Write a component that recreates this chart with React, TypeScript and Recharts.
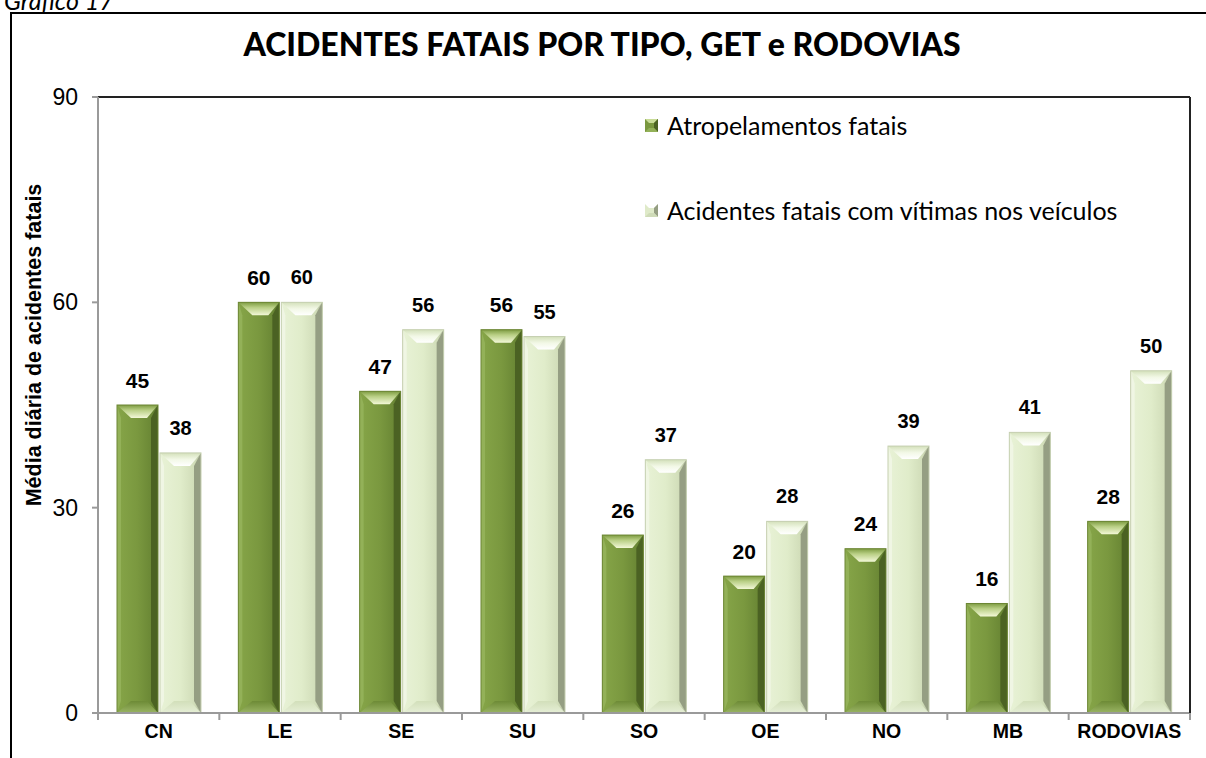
import React from "react";
import { BarChart, Bar, XAxis, YAxis, ReferenceLine, LabelList } from "recharts";

// categorias (GET + rodovias)
const categories = ["CN", "LE", "SE", "SU", "SO", "OE", "NO", "MB", "RODOVIAS"];
const atropelamentos = [45, 60, 47, 56, 26, 20, 24, 16, 28];
const vitimasVeiculos = [38, 60, 56, 55, 37, 28, 39, 41, 50];
const yTicks = [0, 30, 60, 90];
const seriesNames = ["Atropelamentos fatais", "Acidentes fatais com vítimas nos veículos"];

const data = categories.map((c, i) => ({
  cat: c,
  atrop: atropelamentos[i],
  vitimas: vitimasVeiculos[i],
}));

const BAND = 1092 / categories.length;

const Gradients = () => (
  <svg width={0} height={0} style={{ position: "absolute" }}>
    <defs>
      <linearGradient id="darkBody" x1="0" y1="0" x2="1" y2="0">
        <stop offset="0" stopColor="#86a548" />
        <stop offset="0.5" stopColor="#7a983f" />
        <stop offset="0.85" stopColor="#6a8735" />
        <stop offset="1" stopColor="#55702a" />
      </linearGradient>
      <linearGradient id="darkTop" x1="0" y1="0" x2="0" y2="1">
        <stop offset="0" stopColor="#7e9c42" />
        <stop offset="0.4" stopColor="#b9cf85" />
        <stop offset="1" stopColor="#f3f8d8" />
      </linearGradient>
      <linearGradient id="darkBottom" x1="0" y1="0" x2="0" y2="1">
        <stop offset="0" stopColor="#6d8a36" />
        <stop offset="1" stopColor="#9ab564" />
      </linearGradient>
      <linearGradient id="lightBody" x1="0" y1="0" x2="1" y2="0">
        <stop offset="0" stopColor="#e8f2d6" />
        <stop offset="0.5" stopColor="#e0ecca" />
        <stop offset="0.85" stopColor="#d0dcb8" />
        <stop offset="1" stopColor="#aeb89a" />
      </linearGradient>
      <linearGradient id="lightTop" x1="0" y1="0" x2="0" y2="1">
        <stop offset="0" stopColor="#d4e1bb" />
        <stop offset="0.5" stopColor="#f2f8e6" />
        <stop offset="1" stopColor="#ffffff" />
      </linearGradient>
      <linearGradient id="lightBottom" x1="0" y1="0" x2="0" y2="1">
        <stop offset="0" stopColor="#d2dfba" />
        <stop offset="1" stopColor="#e6efd6" />
      </linearGradient>
    </defs>
  </svg>
);

// barra com efeito de chanfro, parecida com o Excel
const BevelBar = (props: any) => {
  const { x, y, width: w, height: h, kind } = props;
  if (!h || h <= 0) return null;
  const dark = kind === "dark";
  const bt = 13;
  const bb = 12;
  const bl = 4;
  const br = 7;
  const p = (pts: number[][]) => pts.map((q) => q.join(",")).join(" ");
  return (
    <g>
      <rect x={x} y={y} width={w} height={h} fill={dark ? "url(#darkBody)" : "url(#lightBody)"} />
      <polygon
        points={p([[x, y], [x + bl, y + bt], [x + bl, y + h - bb], [x, y + h]])}
        fill={dark ? "#93b158" : "#f0f6e4"}
      />
      <polygon
        points={p([[x + w, y], [x + w - br, y + bt], [x + w - br, y + h - bb], [x + w, y + h]])}
        fill={dark ? "#4b6223" : "#959e83"}
      />
      <polygon
        points={p([[x, y], [x + w, y], [x + w - br - 4, y + bt], [x + bl + 10, y + bt]])}
        fill={dark ? "url(#darkTop)" : "url(#lightTop)"}
      />
      <polygon
        points={p([[x, y + h], [x + w, y + h], [x + w - br - 4, y + h - bb], [x + bl + 10, y + h - bb]])}
        fill={dark ? "url(#darkBottom)" : "url(#lightBottom)"}
      />
      <rect x={x} y={y} width={w} height={h} fill="none" stroke={dark ? "#6c8634" : "#c5cfb0"} strokeWidth={1} />
    </g>
  );
};

const valueLabel = (size: number) => (p: any) => (
  <text
    x={p.x + p.width / 2}
    y={p.y - 25}
    textAnchor="middle"
    dominantBaseline="central"
    fontFamily="Arial, 'Liberation Sans', sans-serif"
    fontWeight="bold"
    fontSize={size}
    fill="#000"
  >
    {p.value}
  </text>
);

const XTick = (props: any) => {
  const { x, y, payload, index } = props;
  const last = index === categories.length - 1;
  return (
    <g>
      <line x1={x - BAND / 2} y1={y - 8} x2={x - BAND / 2} y2={y - 1} stroke="#9a9a9a" strokeWidth={2} />
      {last && <line x1={x + BAND / 2} y1={y - 8} x2={x + BAND / 2} y2={y - 1} stroke="#9a9a9a" strokeWidth={2} />}
      <text
        x={x}
        y={y + 10}
        textAnchor="middle"
        dominantBaseline="central"
        fontFamily="Arial, 'Liberation Sans', sans-serif"
        fontWeight="bold"
        fontSize={19.5}
        fill="#000"
      >
        {payload.value}
      </text>
    </g>
  );
};

const LegendSwatch = ({ dark }: { dark: boolean }) => (
  <svg width={13} height={13} style={{ display: "block" }}>
    <rect x={0} y={0} width={13} height={13} fill={dark ? "#7a983f" : "#dfeac9"} />
    <polygon points="0,0 13,0 9,4 4,4" fill={dark ? "#c9dc98" : "#ffffff"} />
    <polygon points="13,0 13,13 9,9 9,4" fill={dark ? "#4b6223" : "#959e83"} />
    <polygon points="0,13 13,13 9,9 4,9" fill={dark ? "#93b158" : "#cfdbb8"} />
  </svg>
);

export default function App() {
  return (
    <div
      style={{
        position: "fixed",
        left: 0,
        top: 0,
        width: 1206,
        height: 758,
        overflow: "hidden",
        background: "#fff",
      }}
    >
      <Gradients />
      <div
        style={{
          position: "absolute",
          left: 4,
          top: -15,
          fontFamily: "Lato, 'Open Sans', sans-serif",
          fontStyle: "italic",
          fontSize: 25,
          color: "#000",
        }}
      >
        Gráfico 17
      </div>
      <div
        style={{
          position: "absolute",
          left: 10,
          top: 12,
          width: 1220,
          height: 780,
          borderLeft: "2px solid #000",
          borderTop: "2px solid #000",
          boxSizing: "border-box",
        }}
      />
      <div
        style={{
          position: "absolute",
          left: 0,
          top: 25,
          width: 1204,
          textAlign: "center",
          fontFamily: "Lato, 'Open Sans', sans-serif",
          fontWeight: 900,
          fontSize: 32,
          lineHeight: "38px",
          color: "#000",
        }}
      >
        ACIDENTES FATAIS POR TIPO, GET e RODOVIAS
      </div>
      <div style={{ position: "absolute", left: 0, top: 0 }}>
        <BarChart
          width={1206}
          height={758}
          data={data}
          margin={{ top: 97, right: 0, bottom: 15, left: 0 }}
          barGap={2}
          barSize={41}
        >
          <XAxis
            dataKey="cat"
            height={30}
            axisLine={{ stroke: "#9a9a9a", strokeWidth: 2 }}
            tickLine={false}
            tick={<XTick />}
            interval={0}
          />
          <YAxis
            width={98}
            domain={[0, 90]}
            ticks={yTicks}
            allowDataOverflow
            axisLine={{ stroke: "#9a9a9a", strokeWidth: 2 }}
            tickLine={{ stroke: "#9a9a9a", strokeWidth: 2 }}
            tickSize={6}
            tickMargin={14}
            tick={{ fill: "#000", fontSize: 23, fontFamily: "Arial, 'Liberation Sans', sans-serif" }}
            label={{
              content: () => (
                <text
                  transform="translate(34,345) rotate(-90)"
                  textAnchor="middle"
                  dominantBaseline="central"
                  fontFamily="Arial, 'Liberation Sans', sans-serif"
                  fontWeight="bold"
                  fontSize={21.5}
                  fill="#000"
                >
                  Média diária de acidentes fatais
                </text>
              ),
            }}
          />
          <YAxis
            yAxisId="right"
            orientation="right"
            width={16}
            domain={[0, 90]}
            tick={false}
            tickLine={false}
            axisLine={{ stroke: "#222", strokeWidth: 2 }}
          />
          <ReferenceLine y={90} stroke="#222" strokeWidth={2} />
          <Bar
            dataKey="atrop"
            name={seriesNames[0]}
            isAnimationActive={false}
            shape={(p: any) => <BevelBar {...p} kind="dark" />}
          >
            <LabelList dataKey="atrop" content={valueLabel(21)} />
          </Bar>
          <Bar
            dataKey="vitimas"
            name={seriesNames[1]}
            isAnimationActive={false}
            shape={(p: any) => <BevelBar {...p} kind="light" />}
          >
            <LabelList dataKey="vitimas" content={valueLabel(20)} />
          </Bar>
        </BarChart>
      </div>
      {seriesNames.map((n, i) => (
        <div
          key={n}
          style={{
            position: "absolute",
            left: 645,
            top: 109 + i * 85,
            display: "flex",
            alignItems: "center",
            gap: 9,
            fontFamily: "Lato, 'Open Sans', sans-serif",
            fontSize: 25,
            lineHeight: "32px",
            color: "#000",
          }}
        >
          <LegendSwatch dark={i === 0} />
          <span>{n}</span>
        </div>
      ))}
    </div>
  );
}
